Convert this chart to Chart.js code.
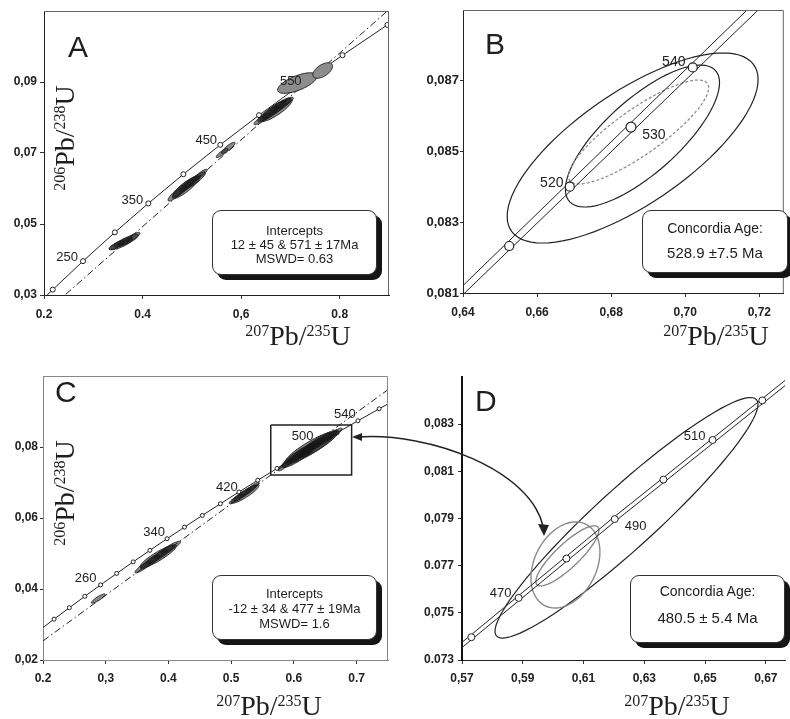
<!DOCTYPE html>
<html>
<head>
<meta charset="utf-8">
<title>U-Pb concordia diagrams</title>
<script src="https://cdn.jsdelivr.net/npm/chart.js@4.4.1/dist/chart.umd.min.js"></script>
<style>
  html, body { margin: 0; padding: 0; background: #fff; }
  #fig { position: relative; width: 790px; height: 719px; overflow: hidden; background: #fff;
         font-family: "Liberation Sans", Arial, sans-serif; color: #1e1e1e; }
  #fig canvas { position: absolute; }
  .letter { position: absolute; font-size: 30px; line-height: 1; }
  .ttl { position: absolute; font-family: "Liberation Serif", "Times New Roman", serif; font-size: 28px;
         line-height: 1; white-space: nowrap; }
  .ttl sup { font-size: 16px; vertical-align: 9px; line-height: 0; }
  .xt { transform: translateX(-50%); }
  .yt { transform: translate(-50%, -50%) rotate(-90deg); }
  .box { position: absolute; box-sizing: border-box; border: 1px solid #333; border-radius: 9px;
         background: #fff; box-shadow: 5px 5px 0 #151515; text-align: center; }
  .box div { position: absolute; left: 0; right: 0; line-height: 1; white-space: nowrap; }
  #arrow { position: absolute; left: 0; top: 0; }
</style>
</head>
<body>
<div id="fig">
  <canvas id="cA" width="395" height="340" style="left:0;top:0"></canvas>
  <canvas id="cB" width="395" height="340" style="left:395px;top:0"></canvas>
  <canvas id="cC" width="395" height="364" style="left:0;top:355px"></canvas>
  <canvas id="cD" width="395" height="364" style="left:395px;top:355px"></canvas>

  <div class="letter" style="left:68px;top:32px">A</div>
  <div class="letter" style="left:485px;top:29px">B</div>
  <div class="letter" style="left:55px;top:377px">C</div>
  <div class="letter" style="left:475px;top:386px">D</div>

  <div class="ttl yt" style="left:65px;top:138px"><sup>206</sup>Pb/<sup>238</sup>U</div>
  <div class="ttl yt" style="left:65px;top:493px"><sup>206</sup>Pb/<sup>238</sup>U</div>
  <div class="ttl xt" style="left:298px;top:322px"><sup>207</sup>Pb/<sup>235</sup>U</div>
  <div class="ttl xt" style="left:716px;top:322px"><sup>207</sup>Pb/<sup>235</sup>U</div>
  <div class="ttl xt" style="left:269px;top:692px"><sup>207</sup>Pb/<sup>235</sup>U</div>
  <div class="ttl xt" style="left:677px;top:692px"><sup>207</sup>Pb/<sup>235</sup>U</div>

  <div class="box" style="left:212px;top:210px;width:165px;height:65px;font-size:13px">
    <div style="top:13px">Intercepts</div>
    <div style="top:27px">12 ± 45 &amp; 571 ± 17Ma</div>
    <div style="top:41px">MSWD= 0.63</div>
  </div>
  <div class="box" style="left:642px;top:210px;width:146px;height:63px">
    <div style="top:10px;font-size:14px">Concordia Age:</div>
    <div style="top:34px;font-size:15px">528.9 ±7.5 Ma</div>
  </div>
  <div class="box" style="left:212px;top:575px;width:165px;height:65px;font-size:13px">
    <div style="top:11px">Intercepts</div>
    <div style="top:26px">-12 ± 34 &amp; 477 ± 19Ma</div>
    <div style="top:41px">MSWD= 1.6</div>
  </div>
  <div class="box" style="left:630px;top:575px;width:155px;height:68px">
    <div style="top:8px;font-size:14px">Concordia Age:</div>
    <div style="top:34px;font-size:15px">480.5 ± 5.4 Ma</div>
  </div>

  <svg id="arrow" width="790" height="719">
    <path d="M358 437 C 430 432, 530 470, 543 526" fill="none" stroke="#222" stroke-width="1.5"/>
    <polygon points="352,437 362,433 362,441" fill="#222"/>
    <polygon points="544,536 538,524 549,525" fill="#222"/>
  </svg>
</div>

<script>
// ---------- Panel A : intercepts ----------
const aAges  = [150, 200, 250, 300, 350, 400, 450, 500, 550, 600, 650];
const aConcX = [0.1592, 0.2177, 0.2792, 0.3438, 0.4116, 0.4828, 0.5576, 0.6363, 0.7189, 0.8056, 0.8968];
const aConcY = [0.02354, 0.03151, 0.03954, 0.04764, 0.05580, 0.06402, 0.07230, 0.08065, 0.08906, 0.09754, 0.10609];
const aLabelAges = [250, 350, 450, 550];
const aDiscX = [0.2, 0.9];
const aDiscY = [0.0248, 0.1104];
const aEllX   = [0.3482, 0.3604, 0.3706, 0.3807, 0.3563, 0.4701, 0.4822, 0.4944, 0.5066, 0.5168, 0.4883, 0.5614, 0.5736, 0.6426, 0.6548, 0.6670, 0.6792, 0.6893, 0.6711];
const aEllY   = [0.04408, 0.04493, 0.04549, 0.04634, 0.04437, 0.05873, 0.06014, 0.06127, 0.06239, 0.06380, 0.06042, 0.07000, 0.07141, 0.07958, 0.08099, 0.08211, 0.08324, 0.08408, 0.08211];
const aEllSx  = [0.0160, 0.0185, 0.0210, 0.0140, 0.0235, 0.0185, 0.0210, 0.0185, 0.0210, 0.0140, 0.0280, 0.0120, 0.0140, 0.0165, 0.0210, 0.0235, 0.0210, 0.0165, 0.0325];
const aEllSy  = [0.00130, 0.00146, 0.00162, 0.00130, 0.00162, 0.00226, 0.00258, 0.00226, 0.00226, 0.00162, 0.00324, 0.00130, 0.00162, 0.00162, 0.00226, 0.00258, 0.00226, 0.00162, 0.00324];
const aEllRho = [0.82, 0.82, 0.82, 0.82, 0.82, 0.88, 0.88, 0.88, 0.88, 0.88, 0.88, 0.88, 0.88, 0.86, 0.86, 0.86, 0.86, 0.86, 0.86];
const aGreyX   = [0.7140, 0.7655];
const aGreyY   = [0.0897, 0.09324];
const aGreySx  = [0.0400, 0.0200];
const aGreySy  = [0.00290, 0.00220];
const aGreyRho = [0.66, 0.55];
const aXTicks = [0.2, 0.4, 0.6, 0.8];
const aXLabels = ['0.2', '0.4', '0,6', '0.8'];
const aYTicks = [0.03, 0.05, 0.07, 0.09];
const aYLabels = ['0,03', '0,05', '0,07', '0,09'];

// ---------- Panel B : concordia age ----------
const bAges  = [510, 520, 530, 540];
const bConcX = [0.65247, 0.66883, 0.68534, 0.70203];
const bConcY = [0.082328, 0.084007, 0.08569, 0.087377];
const bLabelAges = [520, 530, 540];
const bUpX = [0.64, 0.71668];
const bUpY = [0.081211, 0.089];
const bLoX = [0.64, 0.71968];
const bLoY = [0.080955, 0.089];
const bEllX   = [0.68579, 0.68845];
const bEllY   = [0.085099, 0.085438];
const bEllSx  = [0.03387, 0.0208];
const bEllSy  = [0.002686, 0.002007];
const bEllRho = [0.72, 0.75];
const bDashX   = [0.68739];
const bDashY   = [0.085551];
const bDashSx  = [0.01893];
const bDashSy  = [0.00147];
const bDashRho = [0.85];
const bXTicks = [0.64, 0.66, 0.68, 0.70, 0.72];
const bXLabels = ['0,64', '0,66', '0,68', '0,70', '0,72'];
const bYTicks = [0.081, 0.083, 0.085, 0.087];
const bYLabels = ['0,081', '0,083', '0,085', '0,087'];

// ---------- Panel C : intercepts ----------
const cAges  = [180, 200, 220, 240, 260, 280, 300, 320, 340, 360, 380, 400, 420, 440, 460, 480, 500, 520, 540, 560, 580];
const cConcX = [0.19395, 0.21771, 0.24194, 0.26663, 0.29183, 0.31753, 0.34375, 0.37047, 0.39773, 0.42554, 0.45389, 0.48281, 0.51231, 0.54239, 0.57307, 0.60437, 0.63629, 0.66883, 0.70203, 0.73589, 0.77041];
const cConcY = [0.028316, 0.031511, 0.034717, 0.037932, 0.041157, 0.044392, 0.047638, 0.050893, 0.054159, 0.057433, 0.06072, 0.064016, 0.067322, 0.070638, 0.073966, 0.077302, 0.08065, 0.084007, 0.087377, 0.090755, 0.094145];
const cLabelAges = [260, 340, 420, 500, 540];
const cDiscX = [0.2, 0.75];
const cDiscY = [0.02538, 0.09615];
const cBoxX = [0.5631, 0.6920, 0.6920, 0.5631, 0.5631];
const cBoxY = [0.0862, 0.0862, 0.0721, 0.0721, 0.0862];
const cEllX   = [0.2881, 0.3597, 0.3709, 0.3820, 0.3932, 0.4043, 0.3836, 0.5078, 0.5174, 0.5269, 0.5349, 0.5221, 0.5858, 0.5970, 0.6081, 0.6193, 0.6304, 0.6416, 0.6527, 0.6639, 0.6097, 0.6384, 0.6256];
const cEllY   = [0.0373, 0.0462, 0.0476, 0.0490, 0.0504, 0.0518, 0.0492, 0.06535, 0.06648, 0.06761, 0.06873, 0.06676, 0.07493, 0.07634, 0.07775, 0.07887, 0.08028, 0.08141, 0.08254, 0.08366, 0.07775, 0.08085, 0.07972];
const cEllSx  = [0.0110, 0.0130, 0.0150, 0.0165, 0.0165, 0.0150, 0.0290, 0.0110, 0.0130, 0.0130, 0.0095, 0.0220, 0.0110, 0.0150, 0.0165, 0.0185, 0.0185, 0.0185, 0.0165, 0.0130, 0.0290, 0.0330, 0.0400];
const cEllSy  = [0.00130, 0.00165, 0.00195, 0.00195, 0.00195, 0.00165, 0.00325, 0.00130, 0.00165, 0.00165, 0.00130, 0.00260, 0.00165, 0.00195, 0.00230, 0.00230, 0.00230, 0.00230, 0.00195, 0.00165, 0.00355, 0.00390, 0.00450];
const cEllRho = [0.88, 0.88, 0.88, 0.88, 0.88, 0.88, 0.9, 0.88, 0.88, 0.88, 0.88, 0.9, 0.88, 0.88, 0.88, 0.88, 0.88, 0.88, 0.88, 0.88, 0.9, 0.9, 0.9];
const cXTicks = [0.2, 0.3, 0.4, 0.5, 0.6, 0.7];
const cXLabels = ['0.2', '0,3', '0.4', '0.5', '0.6', '0.7'];
const cYTicks = [0.02, 0.04, 0.06, 0.08];
const cYLabels = ['0,02', '0,04', '0,06', '0,08'];

// ---------- Panel D : concordia age ----------
const dAges  = [460, 470, 480, 490, 500, 510, 520];
const dConcX = [0.57307, 0.58864, 0.60437, 0.62025, 0.63629, 0.65247, 0.66883];
const dConcY = [0.073966, 0.075633, 0.077302, 0.078975, 0.08065, 0.082328, 0.084007];
const dLabelAges = [470, 490, 510];
const dUpX = [0.57, 0.62025, 0.6763];
const dUpY = [0.07375, 0.079085, 0.084853];
const dLoX = [0.57, 0.62025, 0.6763];
const dLoY = [0.07353, 0.078865, 0.084633];
const dEllX   = [0.62413];
const dEllY   = [0.07903];
const dEllSx  = [0.04327];
const dEllSy  = [0.0051];
const dEllRho = [0.943];
const dGreyX   = [0.60404, 0.60468];
const dGreyY   = [0.07703, 0.077416];
const dGreySx  = [0.01135, 0.01037];
const dGreySy  = [0.001826, 0.001274];
const dGreyRho = [0.3, 0.85];
const dXTicks = [0.57, 0.59, 0.61, 0.63, 0.65, 0.67];
const dXLabels = ['0,57', '0,59', '0,61', '0,63', '0,65', '0,67'];
const dYTicks = [0.073, 0.075, 0.077, 0.079, 0.081, 0.083];
const dYLabels = ['0.073', '0,075', '0.077', '0,079', '0,081', '0,083'];

const INK = '#222';
const pts = (xs, ys) => xs.map((x, i) => ({ x, y: ys[i] }));

// --- drawing helpers ---
function drawEllipses(chart, groups) {
    const { ctx, chartArea: a, scales: { x, y } } = chart;
    ctx.save();
    ctx.beginPath();
    ctx.rect(a.left, a.top, a.right - a.left, a.bottom - a.top);
    ctx.clip();
    groups.forEach(g => {
        g.x.forEach((cx, i) => {
            const sx = g.sx[i], sy = g.sy[i], r = g.rho[i];
            const k = Math.sqrt(1 - r * r);
            ctx.beginPath();
            for (let s = 0; s <= 90; s++) {
                const t = s / 90 * Math.PI * 2;
                const px = x.getPixelForValue(cx + sx * Math.cos(t));
                const py = y.getPixelForValue(g.y[i] + sy * (r * Math.cos(t) + k * Math.sin(t)));
                if (s) ctx.lineTo(px, py); else ctx.moveTo(px, py);
            }
            ctx.closePath();
            if (g.fill) { ctx.fillStyle = g.fill; ctx.fill(); }
            ctx.setLineDash(g.dash || []);
            ctx.lineWidth = g.width || 1;
            ctx.strokeStyle = g.stroke;
            ctx.stroke();
        });
    });
    ctx.restore();
}

function drawAgeLabels(chart, lab) {
    if (!lab) return;
    const { ctx, scales: { x, y } } = chart;
    ctx.save();
    ctx.font = lab.font;
    ctx.fillStyle = INK;
    ctx.textAlign = 'center';
    ctx.textBaseline = 'middle';
    lab.ages.forEach((age, i) => {
        const j = lab.concAges.indexOf(age);
        const off = lab.offsets[i];
        ctx.fillText(String(age), x.getPixelForValue(lab.concX[j]) + off[0], y.getPixelForValue(lab.concY[j]) + off[1]);
    });
    ctx.restore();
}

function drawFrame(chart, frame) {
    if (!frame) return;
    const { ctx, chartArea: a } = chart;
    ctx.save();
    ctx.strokeStyle = frame.color;
    ctx.lineWidth = 1;
    ctx.beginPath();
    ctx.moveTo(a.left, a.top + 0.5);
    ctx.lineTo(a.right - 0.5, a.top + 0.5);
    ctx.lineTo(a.right - 0.5, a.bottom);
    ctx.stroke();
    ctx.restore();
}

function panelPlugin(p) {
    return {
        id: 'panel' + p.name,
        beforeDatasetsDraw(chart) { drawEllipses(chart, p.ellipses.filter(g => !g.onTop)); },
        afterDatasetsDraw(chart) {
            drawEllipses(chart, p.ellipses.filter(g => g.onTop));
            drawAgeLabels(chart, p.ageLabels);
        },
        afterDraw(chart) { drawFrame(chart, p.frame); }
    };
}

function axis(ax, dir) {
    return {
        type: 'linear',
        min: ax.min,
        max: ax.max,
        afterBuildTicks: s => { s.ticks = ax.ticks.map(v => ({ value: v })); },
        afterFit: s => { if (dir === 'x') s.height = ax.size; else s.width = ax.size; },
        ticks: {
            autoSkip: false,
            maxRotation: 0,
            padding: ax.pad,
            color: INK,
            font: { family: 'Liberation Sans, Arial, sans-serif', size: ax.font || 12, weight: 'bold' },
            callback: (v, i) => ax.labels[i]
        },
        grid: { drawOnChartArea: false, drawTicks: true, tickLength: ax.tick || 4, color: ax.tickColor || '#333' },
        border: { display: true, color: ax.line || INK, width: ax.lineWidth || 1 }
    };
}

function makePanel(id, p) {
    return new Chart(document.getElementById(id).getContext('2d'), {
        type: 'scatter',
        data: { datasets: p.datasets },
        options: {
            responsive: false,
            animation: false,
            events: [],
            layout: { padding: p.padding },
            plugins: { legend: { display: false }, tooltip: { enabled: false } },
            scales: { x: axis(p.x, 'x'), y: axis(p.y, 'y') }
        },
        plugins: [panelPlugin(p)]
    });
}

const lineDs = (data, extra) => Object.assign({
    data, showLine: true, borderColor: INK, borderWidth: 1, pointRadius: 0, fill: false, tension: 0
}, extra);
const DASHDOT = [7, 3, 1.5, 3];
const CLUSTER_FILL = 'rgba(20,20,20,0.5)';

// --- Panel A ---
makePanel('cA', {
    name: 'A',
    padding: { left: 0, right: 6, top: 11, bottom: 0 },
    x: { min: 0.2, max: 0.9, ticks: aXTicks, labels: aXLabels, size: 45, pad: 8 },
    y: { min: 0.03, max: 0.11, ticks: aYTicks, labels: aYLabels, size: 44, pad: 3 },
    datasets: [
        lineDs(pts(aConcX, aConcY), { pointRadius: 2.5, pointBackgroundColor: '#fff', pointBorderColor: INK, pointBorderWidth: 1, order: 1 }),
        lineDs(pts(aDiscX, aDiscY), { borderDash: DASHDOT, order: 2 })
    ],
    ellipses: [
        { x: aEllX, y: aEllY, sx: aEllSx, sy: aEllSy, rho: aEllRho, stroke: INK, fill: CLUSTER_FILL, onTop: true },
        { x: aGreyX, y: aGreyY, sx: aGreySx, sy: aGreySy, rho: aGreyRho, stroke: INK, fill: '#8c8c8c', onTop: true }
    ],
    ageLabels: { ages: aLabelAges, concAges: aAges, concX: aConcX, concY: aConcY, font: '13px Liberation Sans',
                 offsets: [[-16, -4], [-16, -3], [-14, -4], [-9, -4]] },
    frame: { color: '#666' }
});

// --- Panel B ---
makePanel('cB', {
    name: 'B',
    padding: { left: 0, right: 2, top: 10, bottom: 0 },
    x: { min: 0.64, max: 0.7266, ticks: bXTicks, labels: bXLabels, size: 47, pad: 8 },
    y: { min: 0.081, max: 0.089, ticks: bYTicks, labels: bYLabels, size: 68, pad: 1, tick: 3, font: 13 },
    datasets: [
        { data: pts(bConcX, bConcY), showLine: false, pointRadius: [4.5, 4.5, 5, 4.5], pointBackgroundColor: '#fff',
          pointBorderColor: INK, pointBorderWidth: 1.2, order: 0 },
        lineDs(pts(bUpX, bUpY), { order: 1 }),
        lineDs(pts(bLoX, bLoY), { order: 1 })
    ],
    ellipses: [
        { x: bEllX, y: bEllY, sx: bEllSx, sy: bEllSy, rho: bEllRho, stroke: INK, width: 1.2 },
        { x: bDashX, y: bDashY, sx: bDashSx, sy: bDashSy, rho: bDashRho, stroke: '#888', width: 1.2, dash: [3, 2] }
    ],
    ageLabels: { ages: bLabelAges, concAges: bAges, concX: bConcX, concY: bConcY, font: '14px Liberation Sans',
                 offsets: [[-18, -3], [23, 8], [-19, -5]] },
    frame: { color: '#666' }
});

// --- Panel C ---
makePanel('cC', {
    name: 'C',
    padding: { left: 0, right: 7, top: 21, bottom: 0 },
    x: { min: 0.2, max: 0.75, ticks: cXTicks, labels: cXLabels, size: 59, pad: 7, line: '#888' },
    y: { min: 0.02, max: 0.1, ticks: cYTicks, labels: cYLabels, size: 43, pad: 2, tick: 3, line: '#888' },
    datasets: [
        lineDs(pts(cConcX, cConcY), { pointRadius: 2, pointBackgroundColor: '#fff', pointBorderColor: INK, pointBorderWidth: 1, order: 1 }),
        lineDs(pts(cDiscX, cDiscY), { borderDash: DASHDOT, order: 2 }),
        lineDs(pts(cBoxX, cBoxY), { borderWidth: 1.5, order: 0 })
    ],
    ellipses: [
        { x: cEllX, y: cEllY, sx: cEllSx, sy: cEllSy, rho: cEllRho, stroke: INK, fill: CLUSTER_FILL, onTop: true }
    ],
    ageLabels: { ages: cLabelAges, concAges: cAges, concX: cConcX, concY: cConcY, font: '13px Liberation Sans',
                 offsets: [[-15, -6], [-13, -6], [-12, -5], [-14, -8], [-13, -6]] },
    frame: { color: '#888' }
});

// --- Panel D ---
makePanel('cD', {
    name: 'D',
    padding: { left: 0, right: 0, top: 22, bottom: 0 },
    x: { min: 0.57, max: 0.6763, ticks: dXTicks, labels: dXLabels, size: 59, pad: 7 },
    y: { min: 0.073, max: 0.085, ticks: dYTicks, labels: dYLabels, size: 67, pad: 4, lineWidth: 2, line: '#111' },
    datasets: [
        { data: pts(dConcX, dConcY), showLine: false, pointRadius: 3.5, pointBackgroundColor: '#fff',
          pointBorderColor: INK, pointBorderWidth: 1, order: 0 },
        lineDs(pts(dUpX, dUpY), { order: 1 }),
        lineDs(pts(dLoX, dLoY), { order: 1 })
    ],
    ellipses: [
        { x: dEllX, y: dEllY, sx: dEllSx, sy: dEllSy, rho: dEllRho, stroke: INK, width: 1.2 },
        { x: dGreyX, y: dGreyY, sx: dGreySx, sy: dGreySy, rho: dGreyRho, stroke: '#8a8a8a', width: 1.4 }
    ],
    ageLabels: { ages: dLabelAges, concAges: dAges, concX: dConcX, concY: dConcY, font: '13px Liberation Sans',
                 offsets: [[-18, -4], [21, 7], [-18, -4]] },
    frame: null
});
</script>
</body>
</html>
